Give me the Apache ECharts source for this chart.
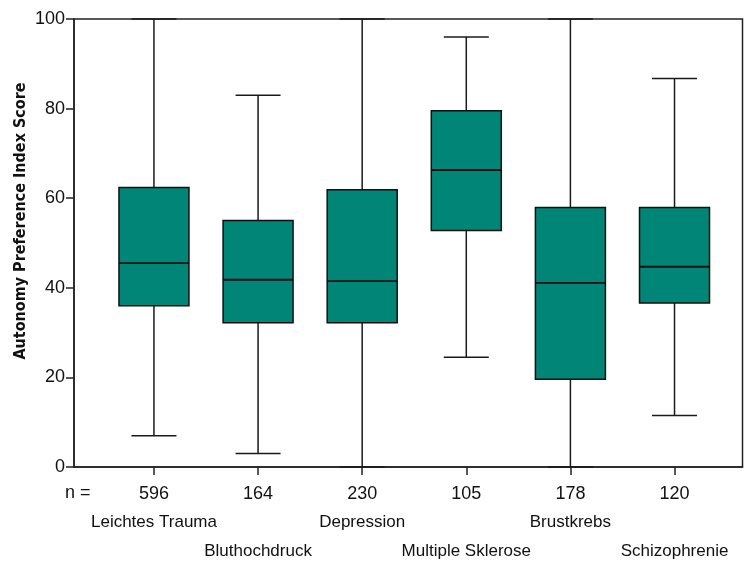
<!DOCTYPE html>
<html>
<head>
<meta charset="utf-8">
<script src="https://cdn.jsdelivr.net/npm/echarts@6/dist/echarts.min.js"></script>
<style>
  html, body { margin: 0; padding: 0; background: #fff; }
  #chart { width: 749px; height: 567px; }
</style>
</head>
<body>
<div id="chart"></div>
<script>
// ---- Data ----
var categories = ['Leichtes Trauma', 'Bluthochdruck', 'Depression', 'Multiple Sklerose', 'Brustkrebs', 'Schizophrenie'];
var nValues = [596, 164, 230, 105, 178, 120];
var whiskerLow = [7, 3, 0, 24.5, 0, 11.5];
var q1Values = [36, 32.2, 32.2, 52.8, 19.6, 36.6];
var medianValues = [45.5, 41.8, 41.5, 66.3, 41.1, 44.7];
var q3Values = [62.4, 55, 61.9, 79.5, 57.9, 57.9];
var whiskerHigh = [100, 83, 100, 96, 100, 86.7];
var yTicks = [0, 20, 40, 60, 80, 100];

var FONT = '"Liberation Sans", Arial, sans-serif';
var TITLE_FONT = '"DejaVu Sans Condensed", "Liberation Sans", sans-serif';

var boxData = categories.map(function (c, i) {
  return [i, whiskerLow[i], q1Values[i], medianValues[i], q3Values[i], whiskerHigh[i]];
});
var allIdx = categories.map(function (c, i) { return i; });
var evenIdx = allIdx.filter(function (i) { return i % 2 === 0; });
var oddIdx = allIdx.filter(function (i) { return i % 2 === 1; });

var chart = echarts.init(document.getElementById('chart'), null, { renderer: 'canvas' });

function renderBox(params, api) {
  var x = api.value(0);
  var pLow = api.coord([x, api.value(1)]);
  var pQ1 = api.coord([x, api.value(2)]);
  var pMed = api.coord([x, api.value(3)]);
  var pQ3 = api.coord([x, api.value(4)]);
  var pHigh = api.coord([x, api.value(5)]);
  var cx = pLow[0];
  var boxW = 70, capW = 45;
  var lineStyle = { stroke: '#1a1a1a', lineWidth: 1.5 };
  return {
    type: 'group',
    children: [
      { type: 'line', shape: { x1: cx, y1: pLow[1], x2: cx, y2: pQ1[1] }, style: lineStyle },
      { type: 'line', shape: { x1: cx, y1: pQ3[1], x2: cx, y2: pHigh[1] }, style: lineStyle },
      { type: 'line', shape: { x1: cx - capW / 2, y1: pLow[1], x2: cx + capW / 2, y2: pLow[1] }, style: lineStyle },
      { type: 'line', shape: { x1: cx - capW / 2, y1: pHigh[1], x2: cx + capW / 2, y2: pHigh[1] }, style: lineStyle },
      { type: 'rect', shape: { x: cx - boxW / 2, y: pQ3[1], width: boxW, height: pQ1[1] - pQ3[1] },
        style: { fill: '#008576', stroke: '#111', lineWidth: 1.5 } },
      { type: 'line', shape: { x1: cx - boxW / 2, y1: pMed[1], x2: cx + boxW / 2, y2: pMed[1] },
        style: { stroke: '#111', lineWidth: 1.8 } }
    ]
  };
}

var richStyles = {
  n: { fontFamily: FONT, fontSize: 18, color: '#111', lineHeight: 28, align: 'center' },
  c: { fontFamily: FONT, fontSize: 17, color: '#111', lineHeight: 29, align: 'center' },
  g: { fontFamily: FONT, fontSize: 17, color: '#111', lineHeight: 29, align: 'center' }
};

function labelFormatter(v) {
  var i = Math.round(v);
  if (i < 0 || i >= categories.length) return '';
  if (i % 2 === 0) {
    return '{n|' + nValues[i] + '}\n{c|' + categories[i] + '}';
  }
  return '{n|' + nValues[i] + '}\n{g| }\n{c|' + categories[i] + '}';
}

var xMin = -0.768, xMax = 5.653;

var option = {
  backgroundColor: '#fff',
  animation: false,
  grid: {
    left: 74, right: 6.5, top: 19, bottom: 100,
    show: true, borderColor: '#222', borderWidth: 1.5, backgroundColor: 'transparent'
  },
  xAxis: [{
    type: 'value',
    position: 'bottom',
    min: xMin,
    max: xMax,
    splitLine: { show: false },
    axisLine: { show: true, onZero: false, lineStyle: { color: '#222', width: 1.5 } },
    axisTick: {
      show: true, length: 8, inside: false,
      customValues: allIdx,
      lineStyle: { color: '#222', width: 1.5 }
    },
    axisLabel: {
      show: true, margin: 13, hideOverlap: false,
      customValues: evenIdx,
      formatter: labelFormatter,
      rich: richStyles
    }
  }, {
    type: 'value',
    position: 'bottom',
    offset: 0,
    min: xMin,
    max: xMax,
    splitLine: { show: false },
    axisLine: { show: false, onZero: false },
    axisTick: { show: false },
    axisLabel: {
      show: true, margin: 13, hideOverlap: false,
      customValues: oddIdx,
      formatter: labelFormatter,
      rich: richStyles
    }
  }],
  yAxis: {
    type: 'value',
    min: 0,
    max: 100,
    interval: 20,
    splitLine: { show: false },
    axisLine: { show: true, onZero: false, lineStyle: { color: '#222', width: 1.5 } },
    axisTick: { show: true, length: 8, lineStyle: { color: '#222', width: 1.5 } },
    axisLabel: {
      margin: 9,
      fontFamily: FONT, fontSize: 18, color: '#111',
      formatter: function (v) { return yTicks.indexOf(v) >= 0 ? String(v) : ''; }
    }
  },
  graphic: [
    {
      type: 'text', left: 65, top: 484,
      style: { text: 'n =', font: '18px ' + FONT, fill: '#111' }
    },
    {
      type: 'text', x: 21, y: 221, rotation: Math.PI / 2,
      style: {
        text: 'Autonomy Preference Index Score',
        font: 'bold 16px ' + TITLE_FONT, fill: '#111',
        align: 'center', verticalAlign: 'middle'
      }
    }
  ],
  series: [{
    type: 'custom',
    xAxisIndex: 0,
    renderItem: renderBox,
    encode: { x: 0, y: [1, 2, 3, 4, 5] },
    data: boxData,
    clip: false
  }]
};

chart.setOption(option);
</script>
</body>
</html>
